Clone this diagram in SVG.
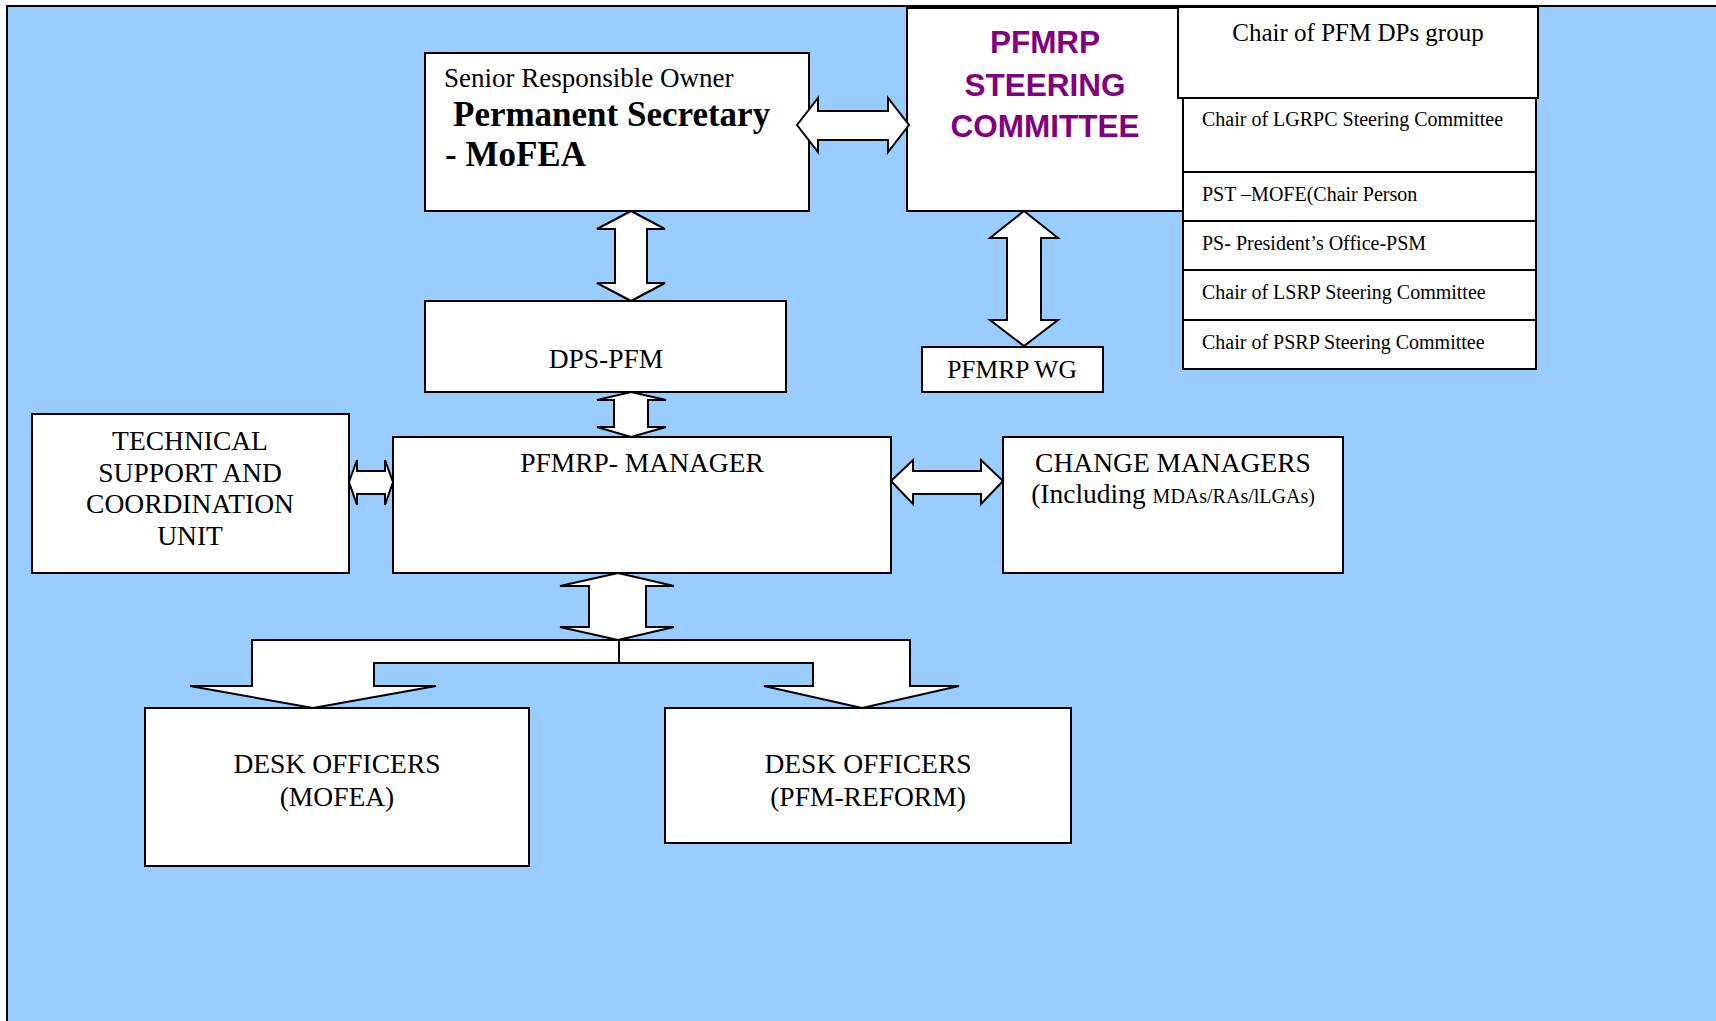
<svg xmlns="http://www.w3.org/2000/svg" width="1716" height="1021" viewBox="0 0 1716 1021">
<style>
.box{fill:#fff;stroke:#000;stroke-width:2}
.arr{fill:#fff;stroke:#000;stroke-width:2;stroke-linejoin:miter}
.t{font-family:"Liberation Serif","Times New Roman",serif;fill:#000}
.m{font-size:27.5px}
.c{text-anchor:middle}
.b{font-weight:bold;font-size:35px}
.s{font-size:20px}
.st{font-family:"Liberation Sans",Arial,sans-serif;font-weight:bold;font-size:31.5px;fill:#800080;text-anchor:middle}
</style>
<rect x="0" y="0" width="1716" height="1021" fill="#fff"/>
<rect x="7" y="6" width="1730" height="1040" fill="#99CCFF" stroke="#000" stroke-width="2"/>

<g id="senior">
<rect class="box" x="425" y="53" width="384" height="158"/>
<text class="t" x="444" y="87" font-size="27">Senior Responsible Owner</text>
<text class="t b" x="453" y="126">Permanent Secretary</text>
<text class="t b" x="445" y="166">- MoFEA</text>
</g>

<g id="steering">
<rect class="box" x="907" y="8" width="276" height="203"/>
<text class="st" x="1045" y="53">PFMRP</text>
<text class="st" x="1045" y="96">STEERING</text>
<text class="st" x="1045" y="137">COMMITTEE</text>
</g>

<g id="chair-dps">
<rect class="box" x="1178" y="7" width="360" height="91"/>
<text class="t c" x="1358" y="41" font-size="25">Chair of PFM DPs group</text>
</g>

<g id="chair-lgrpc">
<rect class="box" x="1183" y="98" width="353" height="74"/>
<text class="t s" x="1202" y="126">Chair of LGRPC Steering Committee</text>
</g>
<g id="pst-mofe">
<rect class="box" x="1183" y="172" width="353" height="49"/>
<text class="t s" x="1202" y="201">PST –MOFE(Chair Person</text>
</g>
<g id="ps-president">
<rect class="box" x="1183" y="221" width="353" height="49"/>
<text class="t s" x="1202" y="250">PS- President’s Office-PSM</text>
</g>
<g id="chair-lsrp">
<rect class="box" x="1183" y="270" width="353" height="50"/>
<text class="t s" x="1202" y="299">Chair of LSRP Steering Committee</text>
</g>
<g id="chair-psrp">
<rect class="box" x="1183" y="320" width="353" height="49"/>
<text class="t s" x="1202" y="349">Chair of PSRP Steering Committee</text>
</g>

<g id="pfmrp-wg">
<rect class="box" x="922" y="347" width="181" height="45"/>
<text class="t c" x="1012" y="378" font-size="25.5">PFMRP WG</text>
</g>

<g id="dps-pfm">
<rect class="box" x="425" y="301" width="361" height="91"/>
<text class="t m c" x="606" y="368">DPS-PFM</text>
</g>

<g id="tscu">
<rect class="box" x="32" y="414" width="317" height="159"/>
<text class="t m c" x="190" y="450">TECHNICAL</text>
<text class="t m c" x="190" y="482">SUPPORT AND</text>
<text class="t m c" x="190" y="513">COORDINATION</text>
<text class="t m c" x="190" y="545">UNIT</text>
</g>

<g id="manager">
<rect class="box" x="393" y="437" width="498" height="136"/>
<text class="t m c" x="642" y="472">PFMRP- MANAGER</text>
</g>

<g id="change-managers">
<rect class="box" x="1003" y="437" width="340" height="136"/>
<text class="t m c" x="1173" y="472">CHANGE MANAGERS</text>
<text class="t m c" x="1173" y="503">(Including <tspan font-size="20">MDAs/RAs/lLGAs)</tspan></text>
</g>

<g id="desk-mofea">
<rect class="box" x="145" y="708" width="384" height="158"/>
<text class="t m c" x="337" y="773">DESK OFFICERS</text>
<text class="t m c" x="337" y="806">(MOFEA)</text>
</g>

<g id="desk-pfm-reform">
<rect class="box" x="665" y="708" width="406" height="135"/>
<text class="t m c" x="868" y="773">DESK OFFICERS</text>
<text class="t m c" x="868" y="806">(PFM-REFORM)</text>
</g>

<g id="connectors">
<polygon class="arr" points="797,125 818,98 818,111 888,111 888,98 909,125 888,152 888,140 818,140 818,152"/>
<polygon class="arr" points="631,211 665,229 647,229 647,283 665,283 631,301 597,283 615,283 615,229 597,229"/>
<polygon class="arr" points="631,392 666,400 648,400 648,427 666,427 631,437 597,427 614,427 614,400 597,400"/>
<polygon class="arr" points="349,482 357,460 357,471 385,471 385,460 393,482 385,505 385,494 357,494 357,505"/>
<polygon class="arr" points="891,481 913,460 913,471 981,471 981,460 1003,481 981,504 981,494 913,494 913,504"/>
<polygon class="arr" points="1024,211 1058,238 1041,238 1041,320 1058,320 1024,346 990,320 1007,320 1007,238 990,238"/>
<polygon class="arr" points="618,573 674,586 646,586 646,627 674,627 618,640 560,627 589,627 589,586 560,586"/>
<polygon class="arr" points="252,640 910,640 910,686 959,686 862,708 764,686 813,686 813,663 374,663 374,686 436,686 313,708 190,686 252,686"/>
<line x1="619" y1="640" x2="619" y2="663" stroke="#000" stroke-width="2"/>
</g>
</svg>
